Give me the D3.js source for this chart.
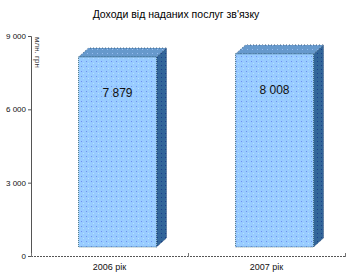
<!DOCTYPE html>
<html><head><meta charset="utf-8">
<script src="https://cdn.jsdelivr.net/npm/d3@7"></script>
<style>body{margin:0;background:#fff}svg{display:block}text{font-family:"Liberation Sans",Arial,sans-serif}</style>
</head><body><svg id="c" width="350" height="276"></svg>
<script>
const categories = ["2006 рік", "2007 рік"];
const values = [7879, 8008];
const valueLabels = ["7 879", "8 008"];
const tickValues = [0, 3000, 6000, 9000];
const tickLabels = ["0", "3 000", "6 000", "9 000"];
const title = "Доходи від наданих послуг зв'язку";
const unitLabel = "млн. грн";

const svg = d3.select("#c");
const defs = svg.append("defs");
const pf = defs.append("pattern").attr("id","pf").attr("width",5).attr("height",5).attr("patternUnits","userSpaceOnUse");
pf.append("rect").attr("width",5).attr("height",5).attr("fill","#99ccff");
pf.append("rect").attr("x",1).attr("y",1).attr("width",1).attr("height",1).attr("fill","#6f8ff0");
pf.append("rect").attr("x",3).attr("y",3).attr("width",1).attr("height",1).attr("fill","#b8e0ff");
const ps = defs.append("pattern").attr("id","ps").attr("width",4).attr("height",4).attr("patternUnits","userSpaceOnUse");
ps.append("rect").attr("width",4).attr("height",4).attr("fill","#336699");
ps.append("rect").attr("x",1).attr("y",1).attr("width",1).attr("height",1).attr("fill","#1a3f8a");
const pt = defs.append("pattern").attr("id","pt").attr("width",5).attr("height",4).attr("patternUnits","userSpaceOnUse");
pt.append("rect").attr("width",5).attr("height",4).attr("fill","#6699cc");
pt.append("rect").attr("x",2).attr("y",1).attr("width",1).attr("height",1).attr("fill","#99bbee");

const x = d3.scaleBand().domain(categories).range([31, 345]);
const y = d3.scaleLinear().domain([0, 9000]).range([256, 36]);
const yBar = d3.scaleLinear().domain([0, 9000]).range([247, 30]);
const dx = 10, dy = 9, bw = 78, shift = 8;

svg.append("text").attr("x",176).attr("y",18).attr("text-anchor","middle")
  .attr("font-size",10.5).attr("fill","#000").text(title);

// y axis
const ya = svg.append("g").attr("transform","translate(31,0)")
  .call(d3.axisLeft(y).tickValues(tickValues).tickSize(3).tickPadding(2).tickFormat((d,i)=>tickLabels[i]));
ya.select(".domain").attr("stroke","#555").attr("stroke-width",1);
ya.selectAll(".tick line").attr("stroke","#555");
ya.selectAll(".tick text").attr("font-size",8).attr("fill","#111").attr("font-family","Liberation Sans, Arial, sans-serif");

svg.append("text").attr("transform","translate(35,37) rotate(90)")
  .attr("font-size",8).attr("fill","#333").text(unitLabel);

// x axis
const xa = svg.append("g").attr("transform","translate(0,256)")
  .call(d3.axisBottom(x).tickSize(0).tickPadding(8));
xa.select(".domain").remove();
svg.append("line").attr("x1",31).attr("x2",345).attr("y1",256.5).attr("y2",256.5)
  .attr("stroke","#555").attr("stroke-dasharray","2,1");
[x.range()[0], x.range()[0]+x.step(), x.range()[1]].forEach(px=>{
  svg.append("line").attr("x1",px+0.5).attr("x2",px+0.5).attr("y1",253).attr("y2",257).attr("stroke","#777");
});
xa.selectAll(".tick text").attr("font-size",9).attr("fill","#111").attr("font-family","Liberation Sans, Arial, sans-serif");

const bars = svg.selectAll("g.bar").data(values).join("g").attr("class","bar");
bars.each(function(v,i){
  const g = d3.select(this);
  const x0 = x(categories[i]) + x.bandwidth()/2 - bw/2 + shift;
  const x1 = x0 + bw, yt = yBar(v), yb = yBar(0);
  g.append("path").attr("d",`M${x1},${yt}L${x1+dx},${yt-dy}L${x1+dx},${yb-dy}L${x1},${yb}Z`)
    .attr("fill","url(#ps)").attr("stroke","#1e3f6e").attr("stroke-width",0.8).attr("stroke-dasharray","1,1");
  g.append("path").attr("d",`M${x0},${yt}L${x0+dx},${yt-dy}L${x1+dx},${yt-dy}L${x1},${yt}Z`)
    .attr("fill","url(#pt)").attr("stroke","#2a4a6a").attr("stroke-width",0.8).attr("stroke-dasharray","1,2");
  g.append("rect").attr("x",x0).attr("y",yt).attr("width",bw).attr("height",yb-yt)
    .attr("fill","url(#pf)").attr("stroke","#2f5f6f").attr("stroke-width",0.8).attr("stroke-dasharray","1,1");
  g.append("text").attr("x",x0+bw/2).attr("y",yt+40).attr("text-anchor","middle")
    .attr("font-size",12).attr("fill","#111").text(valueLabels[i]);
});
</script></body></html>
